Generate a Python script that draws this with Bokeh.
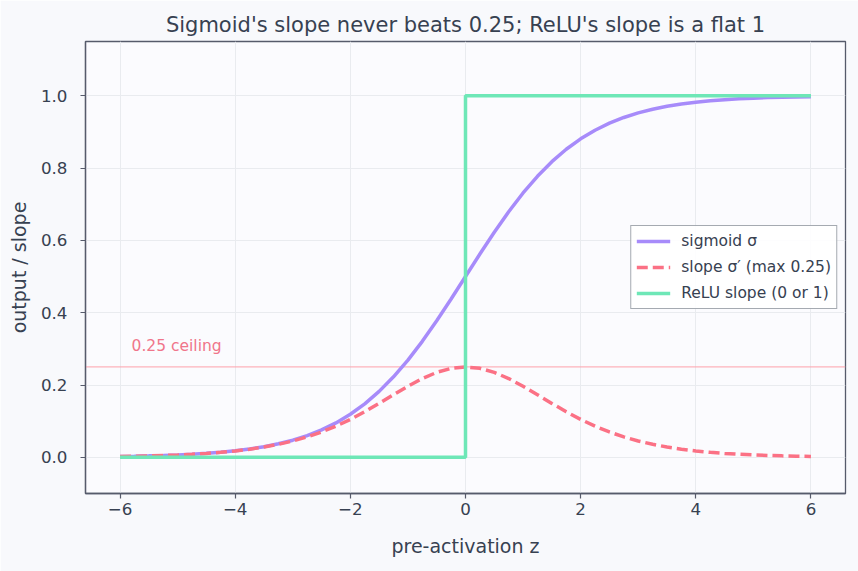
from bokeh.plotting import figure
from bokeh.models import FixedTicker, PrintfTickFormatter, Span, Label
from bokeh.embed import file_html
from bokeh.resources import INLINE

# pre-activation grid and the curves drawn over it
z = [-6.00, -5.75, -5.50, -5.25, -5.00, -4.75, -4.50, -4.25, -4.00, -3.75,
     -3.50, -3.25, -3.00, -2.75, -2.50, -2.25, -2.00, -1.75, -1.50, -1.25,
     -1.00, -0.75, -0.50, -0.25, 0.00, 0.25, 0.50, 0.75, 1.00, 1.25,
     1.50, 1.75, 2.00, 2.25, 2.50, 2.75, 3.00, 3.25, 3.50, 3.75,
     4.00, 4.25, 4.50, 4.75, 5.00, 5.25, 5.50, 5.75, 6.00]

sigmoid = [0.0025, 0.0032, 0.0041, 0.0052, 0.0067, 0.0086, 0.0110, 0.0141, 0.0180, 0.0230,
           0.0293, 0.0374, 0.0474, 0.0601, 0.0759, 0.0953, 0.1192, 0.1480, 0.1824, 0.2227,
           0.2689, 0.3208, 0.3775, 0.4378, 0.5000, 0.5622, 0.6225, 0.6792, 0.7311, 0.7773,
           0.8176, 0.8520, 0.8808, 0.9047, 0.9241, 0.9399, 0.9526, 0.9626, 0.9707, 0.9770,
           0.9820, 0.9859, 0.9890, 0.9914, 0.9933, 0.9948, 0.9959, 0.9968, 0.9975]

sigmoid_slope = [0.0025, 0.0032, 0.0041, 0.0052, 0.0066, 0.0085, 0.0109, 0.0139, 0.0177, 0.0225,
                 0.0285, 0.0360, 0.0452, 0.0565, 0.0701, 0.0862, 0.1050, 0.1261, 0.1491, 0.1731,
                 0.1966, 0.2179, 0.2350, 0.2461, 0.2500, 0.2461, 0.2350, 0.2179, 0.1966, 0.1731,
                 0.1491, 0.1261, 0.1050, 0.0862, 0.0701, 0.0565, 0.0452, 0.0360, 0.0285, 0.0225,
                 0.0177, 0.0139, 0.0109, 0.0085, 0.0066, 0.0052, 0.0041, 0.0032, 0.0025]

relu_z = [-6, 0, 0, 6]
relu_slope = [0, 0, 1, 1]

ceiling = 0.25
x_ticks = [-6, -4, -2, 0, 2, 4, 6]
y_ticks = [0.0, 0.2, 0.4, 0.6, 0.8, 1.0]

TEXT = "#374151"
SPINE = "#565b6b"
FONT = "DejaVu Sans"

p = figure(width=858, height=571, output_backend="svg", toolbar_location=None,
           x_range=(-6.6, 6.6), y_range=(-0.1, 1.15),
           min_border_left=85, min_border_right=13, min_border_top=41, min_border_bottom=78,
           background_fill_color="#fbfbfe", border_fill_color="#f8f9fc")

p.title.text = "Sigmoid's slope never beats 0.25; ReLU's slope is a flat 1"
p.title.align = "center"
p.title.text_font = FONT
p.title.text_font_size = "21px"
p.title.text_font_style = "normal"
p.title.text_color = TEXT

p.outline_line_color = SPINE
p.outline_line_width = 1.3

for ax in (p.xaxis[0], p.yaxis[0]):
    ax.axis_line_color = SPINE
    ax.axis_line_width = 1.3
    ax.major_tick_line_color = SPINE
    ax.major_tick_line_width = 1.2
    ax.major_tick_out = 5
    ax.major_tick_in = 0
    ax.minor_tick_line_color = None
    ax.major_label_text_font = FONT
    ax.major_label_text_font_size = "16.7px"
    ax.major_label_text_color = TEXT
    ax.axis_label_text_font = FONT
    ax.axis_label_text_font_size = "19px"
    ax.axis_label_text_font_style = "normal"
    ax.axis_label_text_color = TEXT

p.xaxis.ticker = FixedTicker(ticks=x_ticks)
p.xaxis.major_label_overrides = {t: (str(t) if t >= 0 else "\u2212" + str(-t)) for t in x_ticks}
p.xaxis.axis_label = "pre-activation z"
p.xaxis.major_label_standoff = 4
p.xaxis.axis_label_standoff = 17

p.yaxis.ticker = FixedTicker(ticks=y_ticks)
p.yaxis.formatter = PrintfTickFormatter(format="%.1f")
p.yaxis.axis_label = "output / slope"
p.yaxis.major_label_standoff = 13
p.yaxis.axis_label_standoff = 8

p.grid.grid_line_color = "#e9ebef"
p.grid.grid_line_width = 1
p.xgrid.ticker = FixedTicker(ticks=x_ticks)
p.ygrid.ticker = FixedTicker(ticks=y_ticks)

# the 0.25 ceiling of the sigmoid's slope
p.add_layout(Span(location=ceiling, dimension="width", line_color="#fda4af",
                  line_alpha=0.85, line_width=1.2, level="underlay"))
p.add_layout(Label(x=-5.8, y=0.283, text="0.25 ceiling", text_font=FONT,
                   text_font_size="15.5px", text_color="#f0758a", text_baseline="bottom"))

p.line(z, sigmoid, line_color="#a78bfa", line_width=3.5, legend_label="sigmoid σ")
p.line(z, sigmoid_slope, line_color="#fb7185", line_width=3.5, line_dash="11 5",
       legend_label="slope σ′ (max 0.25)")
p.line(relu_z, relu_slope, line_color="#6ee7b7", line_width=3.5,
       legend_label="ReLU slope (0 or 1)")

lg = p.legend[0]
lg.location = "center_right"
lg.margin = 8
lg.padding = 5
lg.spacing = 6
lg.glyph_width = 34
lg.glyph_height = 20
lg.label_height = 20
lg.label_standoff = 11
lg.label_text_font = FONT
lg.label_text_font_size = "15.5px"
lg.label_text_color = TEXT
lg.border_line_color = "#4b5563"
lg.border_line_width = 1.2
lg.background_fill_color = "#ffffff"
lg.background_fill_alpha = 0.9

open("out.html", "w").write(file_html(p, INLINE))
